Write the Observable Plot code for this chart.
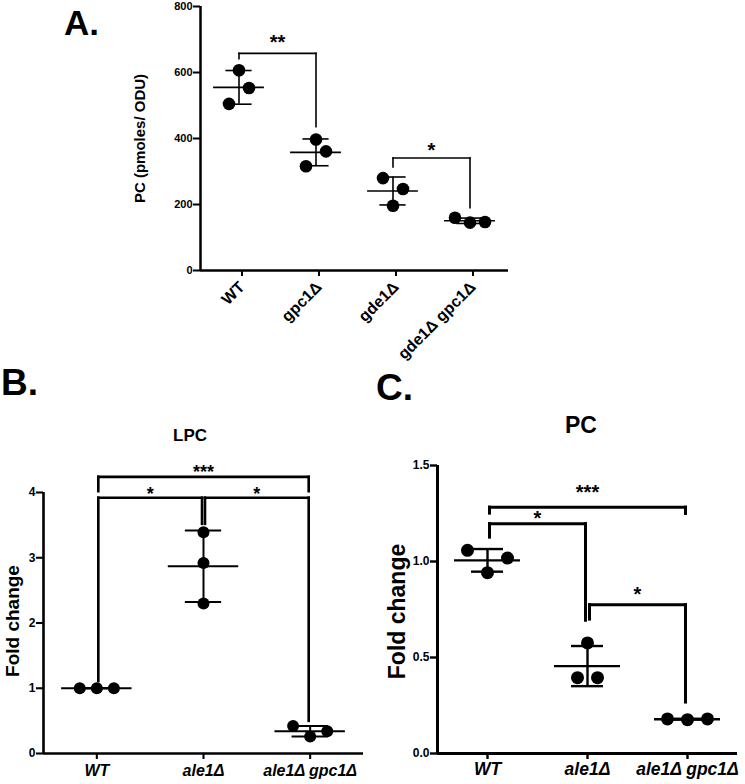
<!DOCTYPE html>
<html><head><meta charset="utf-8">
<script src="https://cdn.jsdelivr.net/npm/d3@7"></script>
<script src="https://cdn.jsdelivr.net/npm/@observablehq/plot@0.6"></script>
<style>
body{margin:0;background:#fff;}
#root{position:relative;width:745px;height:784px;overflow:hidden;background:#fff;font-family:"Liberation Sans",Arial,sans-serif;color:#000;}
.lbl{position:absolute;font-weight:bold;line-height:1;white-space:nowrap;}
.panel{position:absolute;}
.panel svg{overflow:visible;}
</style></head><body><div id="root"></div>
<script>
// ---------- Panel A data ----------
const groupsA = ["WT", "gpc1Δ", "gde1Δ", "gde1Δ gpc1Δ"];
const valuesA = [[607, 553, 505], [397, 361, 316], [280, 247, 196], [160, 145, 147]];
const slotsA = [[0, 1, -1], [0, 1, -1], [-1, 1, 0], [-1.5, 0, 1.5]];
const ticksA = [0, 200, 400, 600, 800];
const bracketsA = [
  {a: "WT", b: "gpc1Δ", top: 658, endA: 642, endB: 436, label: "**", labelY: 707},
  {a: "gde1Δ", b: "gde1Δ gpc1Δ", top: 341, endA: 314, endB: 190, label: "*", labelY: 380}
];
// ---------- Panel B data (LPC) ----------
const groupsBC = ["WT", "ale1Δ", "ale1Δ gpc1Δ"];
const valuesB = [[1.0, 1.0, 1.0], [3.39, 2.92, 2.30], [0.42, 0.26, 0.34]];
const slotsB = [[-1, 0, 1], [0, 0, 0], [-1, 0, 1]];
const ticksB = [0, 1, 2, 3, 4];
const bracketsB = [
  {a: "WT", b: "ale1Δ gpc1Δ", top: 4.24, endA: 4.02, endB: 4.02, label: "***", labelY: 4.38},
  {a: "WT", b: "ale1Δ", top: 3.92, endA: 1.11, endB: 3.52, label: "*", labelY: 4.04},
  {a: "ale1Δ", b: "ale1Δ gpc1Δ", top: 3.92, endA: 3.52, endB: 0.5, label: "*", labelY: 4.04}
];
// ---------- Panel C data (PC) ----------
const valuesC = [[1.058, 1.018, 0.942], [0.576, 0.395, 0.395], [0.18, 0.176, 0.18]];
const slotsC = [[-1, 1, 0], [0, -0.5, 0.5], [-1, 0, 1]];
const ticksC = [0, 0.5, 1.0, 1.5];
const bracketsC = [
  {a: "WT", b: "ale1Δ gpc1Δ", top: 1.283, endA: 1.252, endB: 1.25, label: "***", labelY: 1.386},
  {a: "WT", b: "ale1Δ", top: 1.197, endA: 1.127, endB: 0.694, label: "*", labelY: 1.249},
  {a: "ale1Δ", b: "ale1Δ gpc1Δ", top: 0.775, endA: 0.70, endB: 0.268, label: "*", labelY: 0.855}
];

const root = document.getElementById("root");
function addLabel(text, css) {
  const d = document.createElement("div");
  d.className = "lbl"; d.textContent = text;
  Object.assign(d.style, css);
  root.appendChild(d);
}

function panel(cfg) {
  const n = cfg.groups.length;
  const pts = [];
  cfg.values.forEach((vals, gi) => vals.forEach((v, k) => pts.push({x: gi + cfg.slots[gi][k] * cfg.spread, v})));
  const stats = cfg.values.map((vals, gi) => ({g: gi, mean: d3.mean(vals), sd: d3.deviation(vals)}));
  const segs = [], labs = [];
  cfg.brackets.forEach(b => {
    const ia = cfg.groups.indexOf(b.a) + cfg.gap, ib = cfg.groups.indexOf(b.b) - cfg.gap;
    segs.push({x1: ia, x2: ia, y1: b.endA, y2: b.top},
              {x1: ia, x2: ib, y1: b.top, y2: b.top},
              {x1: ib, x2: ib, y1: b.endB, y2: b.top});
    labs.push({x: (ia + ib) / 2, y: b.labelY, t: b.label});
  });
  const sw = cfg.sw;
  const svg = Plot.plot({
    width: cfg.width, height: cfg.height,
    marginLeft: cfg.ml, marginRight: cfg.mr, marginTop: cfg.mt, marginBottom: cfg.mb,
    style: {fontFamily: "Liberation Sans, Arial, sans-serif", color: "black", background: "transparent", overflow: "visible"},
    x: {type: "linear", domain: [-0.5, n - 0.5]},
    y: {type: "linear", domain: cfg.ydomain},
    marks: [
      Plot.axisY({ticks: cfg.yticks, tickSize: 7, tickPadding: cfg.ytp, tickFormat: cfg.yfmt, label: null,
        fontSize: cfg.yfs, fontWeight: "bold", fontFamily: cfg.yff, strokeWidth: sw.axis * 0.8}),
      Plot.axisX({ticks: d3.range(n), tickFormat: i => cfg.groups[i], tickSize: 6, tickPadding: cfg.xtp,
        tickRotate: cfg.xrot, label: null, fontSize: cfg.xfs, fontWeight: "bold", fontStyle: cfg.xstyle,
        dx: cfg.xdx, strokeWidth: sw.axis * 0.8}),
      Plot.ruleX([-0.5], {y1: cfg.ydomain[0], y2: cfg.ydomain[1], strokeWidth: sw.axis}),
      Plot.ruleY([cfg.ydomain[0]], {strokeWidth: sw.axis}),
      Plot.text([cfg.ylabel], {frameAnchor: "left", textAnchor: "middle", lineAnchor: "middle", rotate: -90,
        dx: cfg.ylabelDx, dy: cfg.ylabelDy, fontSize: cfg.ylabelFs, fontWeight: "bold"}),
      // mean and SD
      Plot.ruleY(stats, {y: "mean", x1: d => d.g - cfg.meanHW, x2: d => d.g + cfg.meanHW, strokeWidth: sw.bar}),
      Plot.ruleX(stats, {x: "g", y1: d => d.mean - d.sd, y2: d => d.mean + d.sd, strokeWidth: sw.bar}),
      Plot.ruleY(stats, {y: d => d.mean + d.sd, x1: d => d.g - cfg.capHW, x2: d => d.g + cfg.capHW, strokeWidth: sw.bar}),
      Plot.ruleY(stats, {y: d => d.mean - d.sd, x1: d => d.g - cfg.capHW, x2: d => d.g + cfg.capHW, strokeWidth: sw.bar}),
      Plot.dot(pts, {x: "x", y: "v", r: cfg.r, fill: "black", stroke: "none"}),
      // significance brackets
      Plot.link(segs, {x1: "x1", y1: "y1", x2: "x2", y2: "y2", strokeWidth: sw.bracket, strokeLinecap: "square"}),
      Plot.text(labs, {x: "x", y: "y", text: "t", fontSize: cfg.starFs, fontWeight: "bold", dy: cfg.starFs * 0.25})
    ]
  });
  const d = document.createElement("div");
  d.className = "panel";
  d.style.left = cfg.left + "px"; d.style.top = cfg.top + "px";
  d.appendChild(svg);
  root.appendChild(d);
}

panel({groups: groupsA, values: valuesA, slots: slotsA, spread: 0.13, brackets: bracketsA, gap: 0,
  left: 0, top: 0, width: 530, height: 370, ml: 200, mr: 22, mt: 6, mb: 100,
  ydomain: [0, 800], yticks: ticksA, yfmt: d3.format("d"), ytp: 1, yfs: 11, yff: "Liberation Sans",
  xtp: 8, xrot: -45, xfs: 16, xstyle: "normal", xdx: 3,
  ylabel: "PC (pmoles/ ODU)", ylabelDx: -60, ylabelDy: 0, ylabelFs: 15,
  meanHW: 0.33, capHW: 0.17, r: 6.3, starFs: 20,
  sw: {axis: 2.5, bar: 1.6, bracket: 1.6}});

panel({groups: groupsBC, values: valuesB, slots: slotsB, spread: 0.16, brackets: bracketsB, gap: 0.014,
  left: 0, top: 440, width: 375, height: 344, ml: 43, mr: 12, mt: 52, mb: 31,
  ydomain: [0, 4], yticks: ticksB, yfmt: d3.format("d"), ytp: 1, yfs: 12, yff: "Liberation Sans Narrow, Liberation Sans",
  xtp: 5, xrot: 0, xfs: 16, xstyle: "italic", xdx: 0,
  ylabel: "Fold change", ylabelDx: -31, ylabelDy: -2, ylabelFs: 19,
  meanHW: 0.33, capHW: 0.17, r: 6, starFs: 18,
  sw: {axis: 2.6, bar: 2, bracket: 2.6}});

panel({groups: groupsBC, values: valuesC, slots: slotsC, spread: 0.2, brackets: bracketsC, gap: 0.02,
  left: 375, top: 440, width: 370, height: 344, ml: 62, mr: 8, mt: 25, mb: 31,
  ydomain: [0, 1.5], yticks: ticksC, yfmt: d3.format(".1f"), ytp: 1, yfs: 12, yff: "Liberation Sans",
  xtp: 3.5, xrot: 0, xfs: 17.5, xstyle: "italic", xdx: 0,
  ylabel: "Fold change", ylabelDx: -40, ylabelDy: 2, ylabelFs: 23,
  meanHW: 0.33, capHW: 0.16, r: 6.5, starFs: 20,
  sw: {axis: 3, bar: 2.4, bracket: 3}});

addLabel("A.", {left: "64px", top: "5px", fontSize: "35px"});
addLabel("B.", {left: "1px", top: "364px", fontSize: "37px"});
addLabel("C.", {left: "376px", top: "369px", fontSize: "37px"});
addLabel("LPC", {left: "190px", top: "427px", fontSize: "17px", transform: "translateX(-50%)", fontWeight: "bold"});
addLabel("PC", {left: "581px", top: "414px", fontSize: "23px", transform: "translateX(-50%)", fontFamily: "Liberation Sans Narrow, Liberation Sans"});
</script></body></html>
